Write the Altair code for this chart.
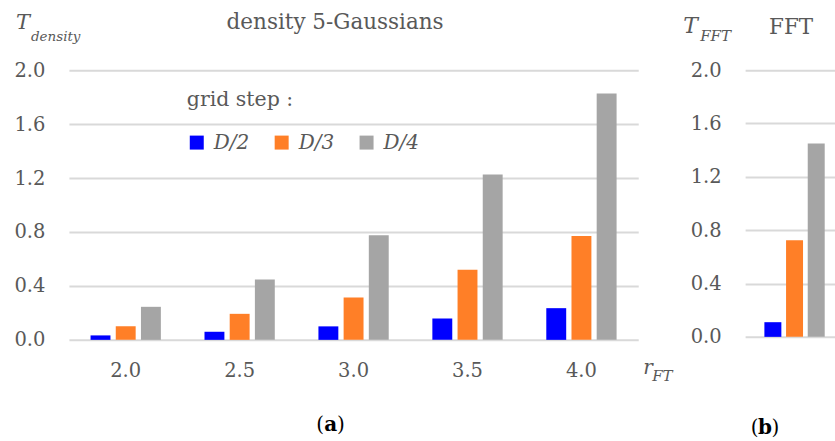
import altair as alt
import pandas as pd

# ---- data ----
r_ft = ["2.0", "2.5", "3.0", "3.5", "4.0"]
steps = ["D/2", "D/3", "D/4"]
t_d2 = [0.033, 0.06, 0.10, 0.158, 0.235]
t_d3 = [0.10, 0.193, 0.315, 0.52, 0.77]
t_d4 = [0.245, 0.447, 0.775, 1.227, 1.827]
fft_vals = [0.11, 0.725, 1.45]
y_ticks = [0.0, 0.4, 0.8, 1.2, 1.6, 2.0]
colors = ["#0000FF", "#FF7F27", "#A5A5A5"]

rows = []
for s, vals in zip(steps, [t_d2, t_d3, t_d4]):
    for r, v in zip(r_ft, vals):
        rows.append({"r": r, "step": s, "t": v})
df_a = pd.DataFrame(rows)
df_b = pd.DataFrame({"step": steps, "t": fft_vals})

FONT = "DejaVu Serif"
TXT = "#595959"
GRID = "#D9D9D9"


def legend():
    return alt.Legend(
        title="grid step :", orient="none", legendX=118, legendY=20,
        direction="horizontal", columns=3, symbolType="square", symbolSize=196,
        symbolStrokeWidth=0, labelFont=FONT, labelFontStyle="italic",
        labelFontSize=20, labelColor=TXT, labelOffset=7, columnPadding=22,
        titleFont=FONT, titleFontSize=20.5, titleFontWeight="normal",
        titleColor=TXT, titlePadding=22, padding=0, titleLimit=300, labelLimit=100,
    )


def color():
    return alt.Color("step:N", sort=steps,
                     scale=alt.Scale(domain=steps, range=colors), legend=legend())


def yaxis():
    return alt.Axis(values=y_ticks, format=".1f", domain=False, ticks=False,
                    tickSize=0, labelPadding=24, labelFont=FONT, labelFontSize=19.5,
                    labelColor=TXT, gridColor=GRID, gridWidth=2, title=None)


def txt(s, x, y, size, style="normal", weight="normal", align="left", col=TXT):
    return alt.Chart(pd.DataFrame({"s": [s]})).mark_text(
        align=align, baseline="alphabetic", font=FONT, fontSize=size,
        fontStyle=style, fontWeight=weight, color=col,
    ).encode(x=alt.value(x), y=alt.value(y), text="s:N")


def panel_tag(letter, cx, y):
    return [
        txt("(", cx - 6.5, y, 20, align="right", col="#000000"),
        txt(letter, cx, y, 20, weight="bold", align="center", col="#000000"),
        txt(")", cx + 6.5, y, 20, align="left", col="#000000"),
    ]


bars_a = alt.Chart(df_a).mark_bar().encode(
    x=alt.X("r:N", sort=r_ft,
            scale=alt.Scale(paddingInner=0.383, paddingOuter=0.19),
            axis=alt.Axis(title=None, labelAngle=0, domain=False, ticks=False,
                          tickSize=0, labelPadding=22, labelFont=FONT,
                          labelFontSize=19.5, labelColor=TXT, grid=False)),
    xOffset=alt.XOffset("step:N", sort=steps,
                        scale=alt.Scale(paddingInner=0.21, paddingOuter=0)),
    y=alt.Y("t:Q", scale=alt.Scale(domain=[0, 2], nice=False), axis=yaxis()),
    color=color(),
)

left = alt.layer(
    bars_a,
    txt("density 5-Gaussians", 266.5, -41, 21.5, align="center"),
    txt("T", -53, -41, 21, style="italic"),
    txt("density", -38, -29, 13.5, style="italic"),
    txt("r", 575, 304, 20, style="italic"),
    txt("FT", 584, 311, 15, style="italic"),
    *panel_tag("a", 262, 361),
).properties(width=570, height=270)

bars_b = alt.Chart(df_b).mark_bar().encode(
    x=alt.X("step:N", sort=steps,
            scale=alt.Scale(paddingInner=0.217, paddingOuter=0.682, align=0.652),
            axis=None),
    y=alt.Y("t:Q", scale=alt.Scale(domain=[0, 2], nice=False), axis=yaxis()),
    color=color(),
)

right = alt.layer(
    bars_b,
    txt("FFT", 46, -36, 21.5, align="center"),
    txt("T", -62, -37, 22, style="italic"),
    txt("FFT", -45, -29, 15, style="italic"),
    *panel_tag("b", 20, 364),
).properties(width=90, height=267)

chart = alt.hconcat(left, right, spacing=107, bounds="flush").properties(
    padding={"left": 13, "top": 12, "right": 0, "bottom": 0},
    background="white",
).configure_view(stroke=None)

chart.save("out.html", embed_options={"renderer": "svg", "actions": False})
